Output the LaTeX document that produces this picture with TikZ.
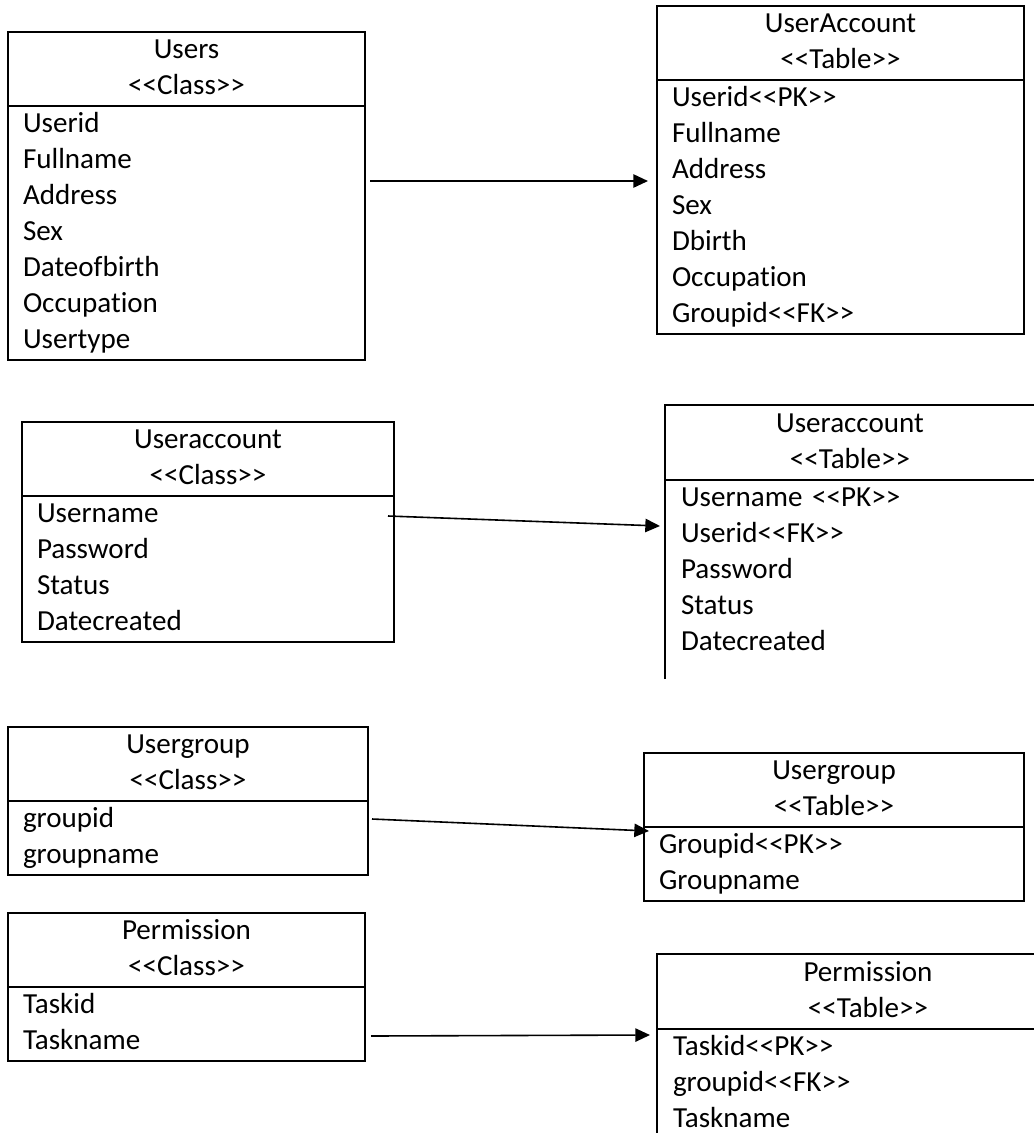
\documentclass[tikz,border=0pt]{standalone}
\usepackage{fontspec}
\newfontfamily\diagfont{Carlito}[Ligatures=NoCommon]
\usepackage{tikz}
\usetikzlibrary{shapes.multipart,arrows.meta}
\tikzstyle{arrow} = [line width=1.2pt, -{Triangle[length=11pt,width=10pt]}]
\tikzstyle{frame} = [line width=1.5pt]
\newcommand{\rs}{\rule[-8pt]{0pt}{27pt}}

\begin{document}
\begin{tikzpicture}[
			x=0.75pt, y=-0.75pt,
			entity/.style={
					rectangle split,
					rectangle split parts=2,
					draw=black,
					line width=1.5pt,
					anchor=north west,
					inner xsep=11.25pt,
					inner ysep=0pt,
					align=left,
					font=\diagfont\fontsize{21.8pt}{27pt}\selectfont,
				}
		]
		\useasboundingbox (0,0) rectangle (1034,1133);
		\clip (0,0) rectangle (1034,1133);

		% Users class
		\node[entity, text width=245.25pt] (users) at (7,31) {
			\centering\rs Users\\ \rs <<Class>>\par
			\nodepart{second}
			\rs Userid\\ \rs Fullname\\ \rs Address\\ \rs Sex\\
			\rs Dateofbirth\\ \rs Occupation\\ \rs Usertype
		};

		% UserAccount table
		\node[entity, text width=252.75pt] (usertab) at (656,5) {
			\centering\rs UserAccount\\ \rs <<Table>>\par
			\nodepart{second}
			\rs Userid<<PK>>\\ \rs Fullname\\ \rs Address\\ \rs Sex\\
			\rs Dbirth\\ \rs Occupation\\ \rs Groupid<<FK>>
		};

		% Useraccount class
		\node[entity, text width=256.5pt] (acct) at (21,421) {
			\centering\rs Useraccount\\ \rs <<Class>>\par
			\nodepart{second}
			\rs Username\\ \rs Password\\ \rs Status\\ \rs Datecreated
		};

		% Useraccount table
		\node[entity, draw=none, text width=253.5pt] (accttab) at (665,405) {
			\centering\rs Useraccount\\ \rs <<Table>>\par
			\nodepart{second}
			\rs Username <<PK>>\\ \rs Userid<<FK>>\\ \rs Password\\
			\rs Status\\ \rs Datecreated
		};
		\draw[frame] ([shift={(0,16)}]accttab.south west) -- (accttab.north west)
			-- (accttab.north east) -- (accttab.text split east);
		\draw[frame] (accttab.text split west) -- (accttab.text split east);

		% Usergroup class
		\node[entity, text width=247.5pt] (group) at (7,726) {
			\centering\rs Usergroup\\ \rs <<Class>>\par
			\nodepart{second}
			\rs groupid\\ \rs groupname
		};

		% Usergroup table
		\node[entity, text width=262.5pt] (grouptab) at (643,752) {
			\centering\rs Usergroup\\ \rs <<Table>>\par
			\nodepart{second}
			\rs Groupid<<PK>>\\ \rs Groupname
		};

		% Permission class
		\node[entity, text width=245.25pt] (perm) at (7,912) {
			\centering\rs Permission\\ \rs <<Class>>\par
			\nodepart{second}
			\rs Taskid\\ \rs Taskname
		};

		% Permission table
		\node[entity, draw=none, text width=292.5pt] (permtab) at (657,954) {
			\centering\rs Permission\\ \rs <<Table>>\par
			\nodepart{second}
			\rs Taskid<<PK>>\\ \rs groupid<<FK>>\\ \rs Taskname
		};
		\draw[frame] (permtab.south west) -- (permtab.north west) -- (permtab.north east);
		\draw[frame] (permtab.text split west) -- (permtab.text split east);

		% Mappings
		\draw[arrow] ([shift={(4,-15)}]users.east) -- ([shift={(-8,11)}]usertab.west);
		\draw[arrow] ([shift={(-7,-16)}]acct.east) -- ([shift={(-5,-8)}]accttab.west);
		\draw[arrow] ([shift={(3,18)}]group.east) -- ([shift={(6,4)}]grouptab.text split west);
		\draw[arrow] ([shift={(5,-26)}]perm.south east) -- ([shift={(-7,6)}]permtab.text split west);

	\end{tikzpicture}
\end{document}
